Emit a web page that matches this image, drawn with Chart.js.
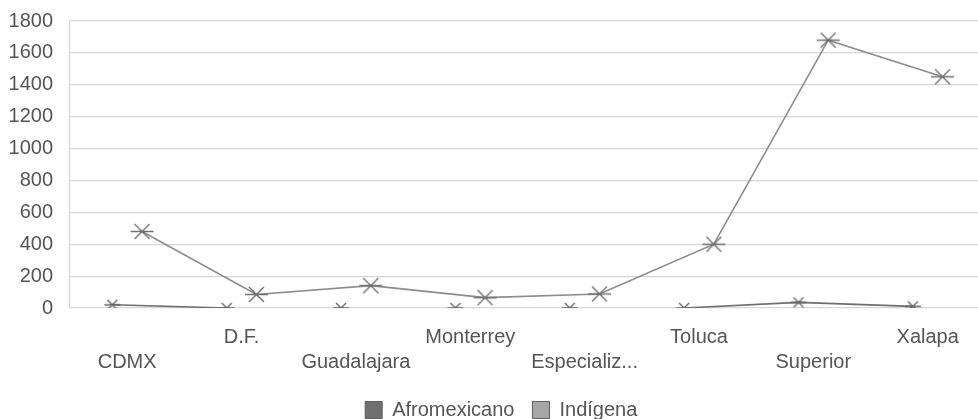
<!DOCTYPE html>
<html>
<head>
<meta charset="utf-8">
<script src="https://cdn.jsdelivr.net/npm/chart.js@4"></script>
<style>
  html, body { margin: 0; padding: 0; background: #ffffff; }
  #wrap { width: 978px; height: 419px; }
</style>
</head>
<body>
<div id="wrap"><canvas id="chart" width="978" height="419"></canvas></div>
<script>
// Categories along the horizontal axis
const categories = ['CDMX', 'D.F.', 'Guadalajara', 'Monterrey', 'Especializ...', 'Toluca', 'Superior', 'Xalapa'];

// Series values
const afromexicano = [20, 0, 0, 0, 0, 0, 35, 10];
const indigena = [480, 85, 140, 65, 88, 400, 1680, 1450];

// Vertical axis ticks
const yTicks = [0, 200, 400, 600, 800, 1000, 1200, 1400, 1600, 1800];

const FONT = 'Liberation Sans, Arial, Helvetica, sans-serif';
const TEXT = '#555555';
const GRID = '#d6d6d6';

// Side-by-side placement of the two series inside each category slot
const GROUP_SHIFT = 0.13;

// Asterisk-like marker: an X crossed by a horizontal stroke
function makeMarker(color, arm, bar, width) {
  const size = Math.ceil(bar * 2 + 4);
  const c = document.createElement('canvas');
  c.width = size; c.height = size;
  const g = c.getContext('2d');
  const m = size / 2;
  g.strokeStyle = color;
  g.lineWidth = width;
  g.lineCap = 'butt';
  g.beginPath();
  g.moveTo(m - arm, m - arm); g.lineTo(m + arm, m + arm);
  g.moveTo(m - arm, m + arm); g.lineTo(m + arm, m - arm);
  g.moveTo(m - bar, m); g.lineTo(m + bar, m);
  g.stroke();
  return c;
}

const afroMarker = makeMarker('#666666', 5, 8, 1.4);
const indiMarker = makeMarker('#6f6f6f', 7.5, 11.5, 1.4);

const toPoints = (vals, shift) => vals.map((v, i) => ({ x: i + shift, y: v }));

// Flat runs lying on the baseline are left undrawn
const baselineSegment = ctx => (ctx.p0.parsed.y === 0 && ctx.p1.parsed.y === 0) ? 'rgba(0,0,0,0)' : undefined;

new Chart(document.getElementById('chart'), {
  type: 'line',
  data: {
    datasets: [
      {
        label: 'Afromexicano',
        data: toPoints(afromexicano, -GROUP_SHIFT),
        borderColor: '#6e6e6e',
        backgroundColor: '#707070',
        borderWidth: 1.6,
        pointStyle: afroMarker,
        pointRadius: 8,
        pointHoverRadius: 8,
        tension: 0,
        segment: { borderColor: baselineSegment }
      },
      {
        label: 'Indígena',
        data: toPoints(indigena, GROUP_SHIFT),
        borderColor: '#8c8c8c',
        backgroundColor: '#a6a6a6',
        borderWidth: 1.6,
        pointStyle: indiMarker,
        pointRadius: 12,
        pointHoverRadius: 12,
        tension: 0
      }
    ]
  },
  options: {
    responsive: false,
    animation: false,
    events: [],
    layout: { autoPadding: false, padding: { left: 8.5, right: -16, top: 21, bottom: -11 } },
    scales: {
      x: {
        type: 'linear',
        min: -0.5,
        max: categories.length - 0.56,
        grid: { display: false },
        border: { display: false },
        afterBuildTicks: axis => { axis.ticks = categories.map((_, i) => ({ value: i })); },
        afterFit: axis => { axis.height -= 2; axis.paddingLeft = 0; axis.paddingRight = 0; },
        ticks: {
          autoSkip: false,
          maxRotation: 0,
          minRotation: 0,
          padding: 9,
          color: TEXT,
          font: { family: FONT, size: 20, lineHeight: 1.25 },
          callback: value => {
            const i = Math.round(value);
            const name = categories[i];
            return i % 2 === 0 ? ['', name] : name;
          }
        }
      },
      y: {
        min: 0,
        max: 1800,
        grid: { color: GRID, lineWidth: 1.2, drawTicks: false },
        border: { display: true, color: GRID, width: 1.2 },
        afterBuildTicks: axis => { axis.ticks = yTicks.map(v => ({ value: v })); },
        afterFit: axis => { axis.width = 61.5; axis.paddingTop = 0; },
        ticks: {
          padding: 17,
          color: TEXT,
          font: { family: FONT, size: 20 },
          callback: value => String(value)
        }
      }
    },
    plugins: {
      tooltip: { enabled: false },
      legend: {
        position: 'bottom',
        labels: {
          color: TEXT,
          font: { family: FONT, size: 20 },
          boxWidth: 17,
          boxHeight: 17,
          padding: 18,
          generateLabels: chart => chart.data.datasets.map((ds, i) => ({
            text: ds.label,
            fillStyle: ds.backgroundColor,
            strokeStyle: '#5f5f5f',
            lineWidth: 1,
            fontColor: TEXT,
            datasetIndex: i,
            hidden: false
          }))
        }
      }
    }
  }
});
</script>
</body>
</html>
